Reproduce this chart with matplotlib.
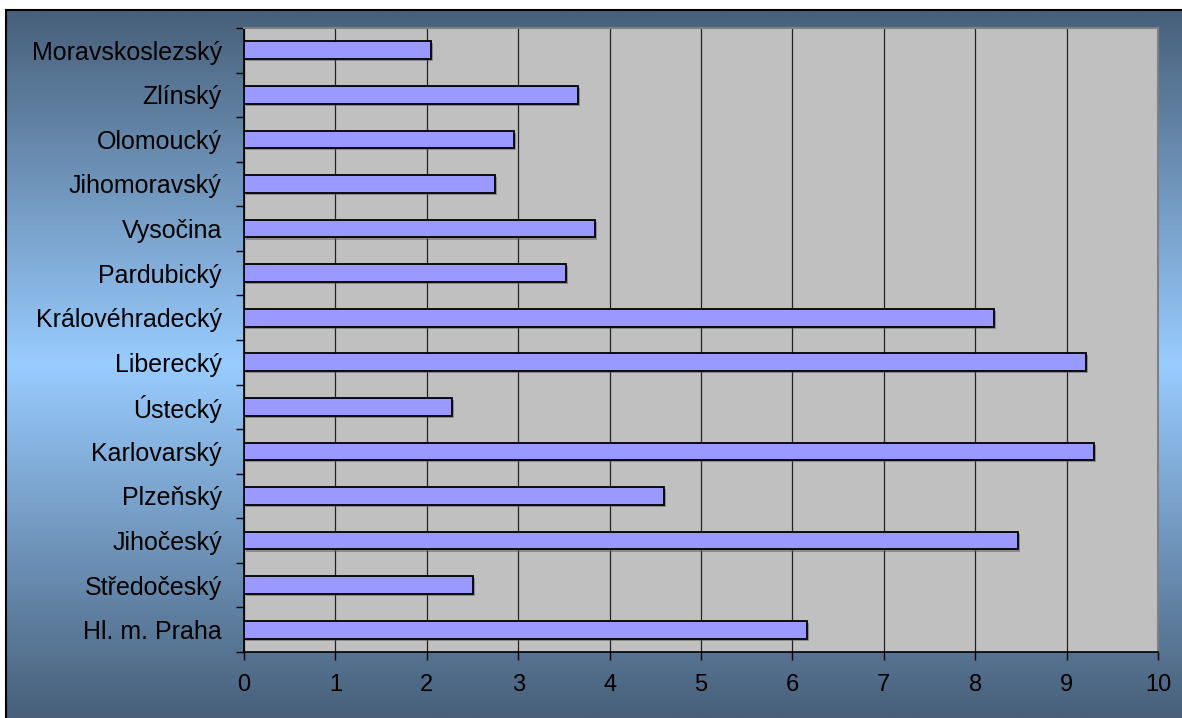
import numpy as np
import matplotlib
matplotlib.use("Agg")
import matplotlib.pyplot as plt
import matplotlib.patheffects as pe
from matplotlib.colors import LinearSegmentedColormap

# regions, bottom to top as drawn
regions = [
    "Hl. m. Praha", "Středočeský", "Jihočeský", "Plzeňský", "Karlovarský",
    "Ústecký", "Liberecký", "Královéhradecký", "Pardubický", "Vysočina",
    "Jihomoravský", "Olomoucký", "Zlínský", "Moravskoslezský",
]
values = [6.16, 2.50, 8.47, 4.59, 9.30, 2.28, 9.21, 8.21, 3.52, 3.84,
          2.75, 2.95, 3.65, 2.05]
x_ticks = list(range(0, 11))

W, H = 1182, 718
plt.rcParams["font.family"] = ["Liberation Sans", "DejaVu Sans"]

fig = plt.figure(figsize=(W / 100, H / 100), dpi=100, facecolor="white")

# gradient frame behind the chart
fx0, fy1 = 6 / W, 1 - 10 / H
bg = fig.add_axes([fx0, 0, 1 - fx0, fy1])
cmap = LinearSegmentedColormap.from_list(
    "frame", [(0.0, "#48607a"), (0.5, "#99ccff"), (1.0, "#48607a")])
grad = np.linspace(0, 1, 400).reshape(-1, 1)
bg.imshow(grad, aspect="auto", cmap=cmap, extent=[0, 1, 0, 1], origin="upper")
bg.set_xlim(0, 1)
bg.set_ylim(0, 1)
bg.set_axis_off()
bg.plot([0, 0], [0, 1], color="black", lw=1.5, transform=bg.transAxes, clip_on=False)
bg.plot([0, 1], [1, 1], color="black", lw=1.5, transform=bg.transAxes, clip_on=False)

ax = fig.add_axes([244 / W, 1 - 652 / H, (1158 - 244) / W, (652 - 28) / H])
ax.set_facecolor("#c0c0c0")

y = np.arange(len(regions))
ax.barh(y, values, height=0.4, color="#9999ff", edgecolor="black", linewidth=1.3,
        zorder=3,
        path_effects=[pe.SimplePatchShadow(offset=(1.5, -1.5), shadow_rgbFace="#555555",
                                           alpha=0.5), pe.Normal()])

ax.set_xlim(0, 10)
ax.set_ylim(-0.5, len(regions) - 0.5)
ax.set_xticks(x_ticks)
ax.set_xticklabels([str(t) for t in x_ticks])
ax.xaxis.grid(True, color="#222222", linewidth=0.9, zorder=1)
ax.set_axisbelow(True)

ax.set_yticks(y)
ax.set_yticklabels(regions)
ax.set_yticks(np.arange(-0.5, len(regions)), minor=True)
ax.tick_params(axis="y", which="major", length=0, pad=16, labelsize=18)
ax.tick_params(axis="y", which="minor", length=6, width=1, color="black")
ax.tick_params(axis="x", which="major", length=6, width=1, pad=10, labelsize=17)

for side in ("left", "bottom"):
    ax.spines[side].set_color("black")
    ax.spines[side].set_linewidth(1.2)
for side in ("top", "right"):
    ax.spines[side].set_color("#808080")
    ax.spines[side].set_linewidth(1.5)

fig.savefig("out.png", dpi=100, facecolor="white")
